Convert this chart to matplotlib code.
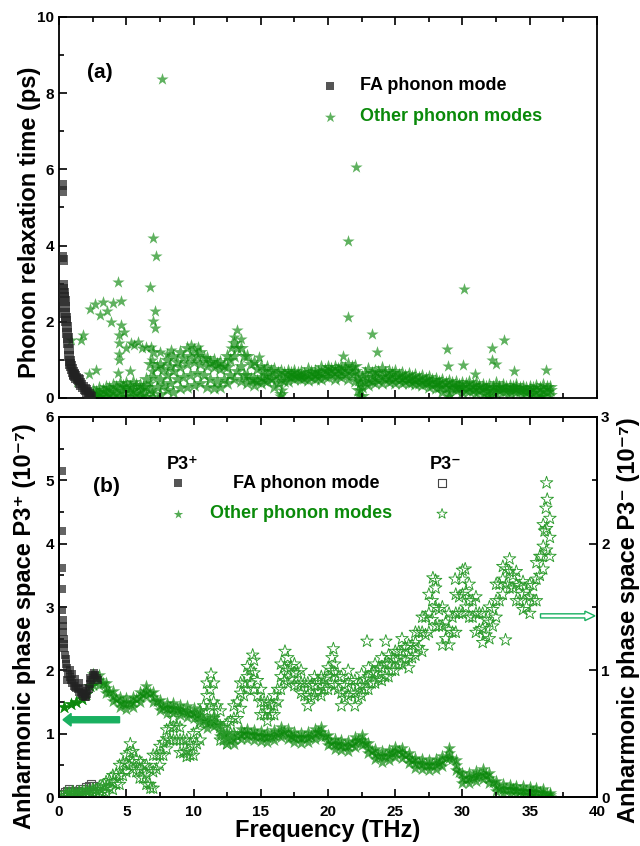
import matplotlib
matplotlib.use("Agg")
import matplotlib.pyplot as plt
import numpy as np

plt.rcParams['font.family'] = ['Liberation Sans', 'DejaVu Sans']
plt.rcParams['font.weight'] = 'bold'
plt.rcParams['axes.labelweight'] = 'bold'

# ---------------- panel (a): relaxation time ----------------
a_fa_x = [0.2, 0.2, 0.25, 0.27, 0.3, 0.33, 0.36, 0.39, 0.42, 0.45, 0.48, 0.52, 0.55, 0.58,
          0.61, 0.64, 0.68, 0.72, 0.76, 0.8, 0.85, 0.91, 0.97, 1.03, 1.1, 1.15, 1.22, 1.3,
          1.38, 1.45, 1.55, 1.67, 1.78, 1.9, 1.97, 2.08, 2.21, 2.3, 2.39]
a_fa_y = [5.6, 5.42, 3.7, 3.62, 2.97, 2.85, 2.76, 2.65, 2.54, 2.4, 2.23, 2.1, 2.01, 1.85,
          1.71, 1.58, 1.44, 1.28, 1.09, 0.98, 0.9, 0.83, 0.75, 0.68, 0.63, 0.61, 0.57, 0.52,
          0.5, 0.48, 0.4, 0.35, 0.28, 0.24, 0.22, 0.16, 0.1, 0.06, 0.03]

a_band_x = [2.5, 3.0, 3.5, 4.0, 4.5, 5.0, 5.5, 6.0, 6.5, 7.0, 7.5, 8.0, 8.5, 9.0, 9.5,
            10.0, 10.5, 11.0, 11.5, 12.0, 12.5, 13.0, 13.5, 14.0, 14.5, 15.0, 15.5, 16.0,
            16.5, 17.0, 17.5, 18.0, 18.5, 19.0, 19.5, 20.0, 20.5, 21.0, 21.5, 22.0, 22.5,
            23.0, 23.5, 24.0, 24.5, 25.0, 25.5, 26.0, 26.5, 27.0, 27.5, 28.0, 28.5, 29.0,
            29.5, 30.0, 30.5, 31.0, 31.5, 32.0, 32.5, 33.0, 33.5, 34.0, 34.5, 35.0, 35.5,
            36.0, 36.5]
a_band_lo = [0.02, 0.03, 0.02, 0.05, 0.03, 0.02, 0.05, 0.04, 0.03, 0.02, 0.1, 0.2, 0.15,
             0.25, 0.3, 0.35, 0.4, 0.3, 0.25, 0.3, 0.4, 0.5, 0.45, 0.4, 0.35, 0.4, 0.45,
             0.3, 0.1, 0.45, 0.5, 0.5, 0.48, 0.5, 0.5, 0.55, 0.5, 0.55, 0.5, 0.45, 0.05,
             0.35, 0.38, 0.4, 0.42, 0.4, 0.4, 0.38, 0.37, 0.35, 0.3, 0.25, 0.15, 0.12, 0.2,
             0.15, 0.18, 0.12, 0.1, 0.05, 0.12, 0.15, 0.12, 0.15, 0.1, 0.08, 0.02, 0.05, 0.08]
a_band_mid = [0.1, 0.12, 0.15, 0.18, 0.2, 0.25, 0.22, 0.2, 0.3, 0.55, 0.5, 0.6, 0.7, 0.8,
              0.9, 0.95, 0.9, 0.85, 0.8, 0.75, 0.8, 1.1, 0.85, 0.6, 0.5, 0.55, 0.6, 0.55,
              0.5, 0.6, 0.6, 0.58, 0.6, 0.62, 0.65, 0.7, 0.68, 0.7, 0.72, 0.7, 0.3, 0.5,
              0.55, 0.58, 0.55, 0.55, 0.52, 0.5, 0.48, 0.45, 0.42, 0.38, 0.35, 0.32, 0.3,
              0.3, 0.28, 0.27, 0.25, 0.22, 0.25, 0.25, 0.22, 0.25, 0.22, 0.2, 0.2, 0.22, 0.2]
a_band_hi = [0.2, 0.25, 0.3, 0.35, 0.4, 0.38, 0.42, 0.35, 0.5, 1.2, 0.9, 1.0, 1.1, 1.2,
             1.3, 1.25, 1.2, 1.05, 1.0, 0.95, 1.1, 1.45, 1.3, 1.1, 0.95, 0.85, 0.8, 0.75,
             0.7, 0.72, 0.7, 0.68, 0.75, 0.72, 0.8, 0.8, 0.82, 0.85, 0.88, 0.85, 0.55,
             0.75, 0.72, 0.78, 0.7, 0.72, 0.65, 0.62, 0.6, 0.58, 0.55, 0.5, 0.48, 0.45,
             0.42, 0.4, 0.42, 0.38, 0.35, 0.35, 0.4, 0.35, 0.32, 0.33, 0.3, 0.3, 0.32, 0.35, 0.3]
a_band_x2 = [2.75, 3.25, 3.75, 4.25, 4.75, 5.25, 5.75, 6.25, 6.75, 7.25, 7.75, 8.25, 8.75,
             9.25, 9.75, 10.25, 10.75, 11.25, 11.75, 12.25, 12.75, 13.25, 13.75, 14.25,
             14.75, 15.25, 15.75, 16.25, 16.75, 17.25, 17.75, 18.25, 18.75, 19.25, 19.75,
             20.25, 20.75, 21.25, 21.75, 22.25, 22.75, 23.25, 23.75, 24.25, 24.75, 25.25,
             25.75, 26.25, 26.75, 27.25, 27.75, 28.25, 28.75, 29.25, 29.75, 30.25, 30.75,
             31.25, 31.75, 32.25, 32.75, 33.25, 33.75, 34.25, 34.75, 35.25, 35.75, 36.25]
a_band_q1 = [0.05, 0.08, 0.1, 0.1, 0.12, 0.15, 0.12, 0.1, 0.2, 0.3, 0.35, 0.4, 0.5, 0.55,
             0.6, 0.65, 0.6, 0.5, 0.45, 0.5, 0.6, 0.7, 0.6, 0.5, 0.45, 0.48, 0.5, 0.4,
             0.45, 0.55, 0.55, 0.53, 0.55, 0.56, 0.58, 0.62, 0.6, 0.62, 0.62, 0.2, 0.42,
             0.45, 0.48, 0.5, 0.48, 0.47, 0.45, 0.43, 0.4, 0.38, 0.35, 0.3, 0.25, 0.25,
             0.25, 0.22, 0.22, 0.2, 0.18, 0.18, 0.2, 0.18, 0.2, 0.18, 0.15, 0.14, 0.12, 0.15]
a_band_q3 = [0.15, 0.22, 0.25, 0.3, 0.32, 0.3, 0.35, 0.28, 0.9, 0.8, 0.75, 0.85, 0.95,
             1.05, 1.1, 1.1, 1.05, 0.95, 0.9, 0.85, 1.0, 1.3, 1.1, 0.9, 0.75, 0.7, 0.7,
             0.65, 0.65, 0.66, 0.65, 0.64, 0.68, 0.68, 0.74, 0.76, 0.75, 0.78, 0.8, 0.6,
             0.65, 0.65, 0.68, 0.65, 0.65, 0.6, 0.57, 0.55, 0.52, 0.5, 0.47, 0.42, 0.4,
             0.38, 0.35, 0.36, 0.33, 0.32, 0.3, 0.3, 0.3, 0.28, 0.28, 0.27, 0.26, 0.25, 0.27, 0.28]

# isolated points, spikes and side branches
a_pts_x = [7.67, 6.97, 7.2, 6.8, 7.15, 7.0, 7.1, 4.36, 4.58, 4.03, 3.24, 2.67, 2.33, 3.55,
           3.06, 3.85, 4.6, 4.82, 4.45, 4.45, 4.47, 4.45, 4.4, 0.88, 1.6, 1.79, 2.76, 2.24,
           1.36, 13.27, 21.45, 22.1, 21.5, 23.3, 23.67, 30.1, 28.85, 32.2, 33.1, 32.2, 32.5,
           30.06, 30.9, 33.8, 36.2, 28.9, 21.15, 14.9, 5.27, 5.9, 5.36, 6.85, 6.9, 6.95,
           6.8, 6.9, 5.0, 5.6, 6.2, 6.5, 7.5, 8.0, 8.3, 9.8, 10.3, 13.0, 13.5, 12.8, 22.3,
           22.35, 22.4, 16.4, 16.6, 22.2, 29.0, 32.0, 35.8]
a_pts_y = [8.38, 4.19, 3.72, 2.91, 2.28, 2.03, 1.84, 3.04, 2.55, 2.48, 2.53, 2.46, 2.33,
           2.29, 2.17, 2.0, 1.91, 1.74, 1.66, 1.45, 1.16, 0.99, 0.66, 1.51, 1.51, 1.64,
           0.73, 0.62, 0.43, 1.79, 4.12, 6.06, 2.13, 1.67, 1.2, 2.85, 1.28, 1.31, 1.52,
           1.0, 0.9, 0.87, 0.64, 0.72, 0.74, 0.83, 1.09, 1.08, 0.7, 1.47, 1.44, 1.35,
           1.0, 0.7, 0.4, 0.15, 1.32, 1.38, 1.3, 1.35, 1.2, 1.15, 1.25, 1.4, 1.35, 1.6,
           1.55, 1.3, 0.05, 0.2, 0.4, 0.05, 0.2, 0.45, 0.05, 0.02, 0.05]

# ---------------- panel (b): phase space ----------------
b_fa_p_x = [0.2, 0.2, 0.22, 0.22, 0.25, 0.28, 0.3, 0.32, 0.35, 0.38, 0.4, 0.45, 0.5, 0.55,
            0.6, 0.7, 0.8, 0.9, 1.0, 1.1, 1.2, 1.3, 1.4, 1.5, 1.6, 1.7, 1.8, 1.9, 2.0, 2.1,
            2.2, 2.3, 2.4, 2.5, 2.6, 2.7, 2.8, 2.9, 0.6, 0.8, 1.0, 1.2, 1.5, 1.8, 2.0, 2.3]
b_fa_p_y = [5.15, 4.2, 3.62, 3.28, 2.95, 2.8, 2.7, 2.6, 2.5, 2.42, 2.35, 2.25, 2.18, 2.1,
            2.03, 1.95, 1.9, 1.85, 1.8, 1.76, 1.74, 1.72, 1.7, 1.66, 1.64, 1.62, 1.6, 1.58,
            1.58, 1.62, 1.7, 1.78, 1.85, 1.92, 1.96, 1.93, 1.88, 1.85, 1.85, 2.0, 1.95,
            1.86, 1.8, 1.72, 1.68, 1.88]

b_band_x = [0.4, 0.9, 1.3, 1.7, 2.0, 2.3, 2.5, 3.0, 3.5, 4.0, 4.5, 5.0, 5.5, 6.0, 6.5,
            7.0, 7.5, 8.0, 8.5, 9.0, 9.5, 10.0, 10.5, 11.0, 11.5, 12.0, 12.5, 13.0, 13.5,
            14.0, 14.5, 15.0, 15.5, 16.0, 16.5, 17.0, 17.5, 18.0, 18.5, 19.0, 19.5, 20.0,
            20.5, 21.0, 21.5, 22.0, 22.5, 23.0, 23.5, 24.0, 24.5, 25.0, 25.5, 26.0, 26.5,
            27.0, 27.5, 28.0, 28.5, 29.0, 29.5, 30.0, 30.5, 31.0, 31.5, 32.0, 32.5, 33.0,
            33.5, 34.0, 34.5, 35.0, 35.5, 36.0, 36.5]
b_band_mid = [1.42, 1.47, 1.5, 1.55, 1.62, 1.75, 1.85, 1.85, 1.72, 1.6, 1.5, 1.47, 1.5,
              1.58, 1.68, 1.58, 1.45, 1.4, 1.4, 1.38, 1.35, 1.32, 1.28, 1.17, 1.2, 1.05,
              0.93, 0.92, 1.0, 1.0, 0.98, 0.97, 0.95, 0.98, 1.03, 1.0, 0.95, 0.93, 0.95,
              1.0, 1.03, 0.9, 0.84, 0.82, 0.8, 0.87, 0.9, 0.78, 0.68, 0.64, 0.67, 0.71, 0.7,
              0.62, 0.54, 0.52, 0.5, 0.52, 0.57, 0.7, 0.5, 0.3, 0.3, 0.33, 0.37, 0.3, 0.18,
              0.13, 0.12, 0.11, 0.1, 0.09, 0.08, 0.07, 0.03]
b_band_hi = [1.42, 1.47, 1.5, 1.55, 1.62, 1.75, 1.95, 1.93, 1.8, 1.68, 1.58, 1.56, 1.58,
             1.66, 1.76, 1.66, 1.53, 1.49, 1.48, 1.46, 1.43, 1.4, 1.36, 1.25, 1.28, 1.13,
             1.01, 1.0, 1.08, 1.08, 1.06, 1.05, 1.03, 1.06, 1.11, 1.08, 1.03, 1.01, 1.03,
             1.08, 1.11, 0.98, 0.92, 0.9, 0.88, 0.95, 0.98, 0.86, 0.76, 0.72, 0.75, 0.79,
             0.78, 0.7, 0.62, 0.6, 0.58, 0.6, 0.65, 0.78, 0.58, 0.38, 0.38, 0.41, 0.45,
             0.38, 0.26, 0.2, 0.19, 0.18, 0.17, 0.16, 0.14, 0.12, 0.06]
b_band_lo = [1.42, 1.47, 1.5, 1.55, 1.62, 1.75, 1.77, 1.77, 1.64, 1.52, 1.42, 1.39, 1.42,
             1.5, 1.6, 1.5, 1.37, 1.32, 1.32, 1.3, 1.27, 1.24, 1.2, 1.09, 1.12, 0.97,
             0.85, 0.84, 0.92, 0.92, 0.9, 0.89, 0.87, 0.9, 0.95, 0.92, 0.87, 0.85, 0.87,
             0.92, 0.95, 0.82, 0.76, 0.74, 0.72, 0.79, 0.82, 0.7, 0.6, 0.56, 0.59, 0.63,
             0.62, 0.54, 0.46, 0.44, 0.42, 0.44, 0.49, 0.62, 0.42, 0.22, 0.22, 0.25, 0.29,
             0.22, 0.1, 0.06, 0.05, 0.04, 0.04, 0.03, 0.02, 0.01, 0.0]
b_band_x2 = [2.75, 3.25, 3.75, 4.25, 4.75, 5.25, 5.75, 6.25, 6.75, 7.25, 7.75, 8.25, 8.75,
             9.25, 9.75, 10.25, 10.75, 11.25, 11.75, 12.25, 12.75, 13.25, 13.75, 14.25,
             14.75, 15.25, 15.75, 16.25, 16.75, 17.25, 17.75, 18.25, 18.75, 19.25, 19.75,
             20.25, 20.75, 21.25, 21.75, 22.25, 22.75, 23.25, 23.75, 24.25, 24.75, 25.25,
             25.75, 26.25, 26.75, 27.25, 27.75, 28.25, 28.75, 29.25, 29.75, 30.25, 30.75,
             31.25, 31.75, 32.25, 32.75, 33.25, 33.75, 34.25, 34.75, 35.25, 35.75, 36.25]
b_band_mid2 = [1.88, 1.8, 1.66, 1.55, 1.48, 1.48, 1.54, 1.63, 1.65, 1.52, 1.42, 1.4, 1.39,
               1.36, 1.33, 1.3, 1.22, 1.18, 1.15, 0.98, 0.9, 0.96, 1.01, 0.99, 0.98, 0.96,
               0.96, 1.0, 1.03, 0.97, 0.94, 0.94, 0.97, 1.03, 0.97, 0.86, 0.83, 0.81, 0.83,
               0.9, 0.85, 0.72, 0.65, 0.65, 0.69, 0.72, 0.66, 0.58, 0.53, 0.51, 0.51, 0.54,
               0.62, 0.6, 0.4, 0.29, 0.32, 0.35, 0.34, 0.24, 0.15, 0.12, 0.12, 0.1, 0.09,
               0.08, 0.08, 0.05]

# P3- (right axis)
b_fa_m_x = [0.3, 0.45, 0.6, 0.75, 0.9, 1.05, 1.2, 1.4, 1.6, 1.8, 2.0, 2.2, 2.35, 2.5]
b_fa_m_y = [0.02, 0.04, 0.05, 0.06, 0.05, 0.04, 0.04, 0.05, 0.06, 0.06, 0.08, 0.09, 0.1, 0.09]

m_band_x = [0.5, 1.0, 1.5, 2.0, 2.5, 3.0, 3.5, 4.0, 4.5, 5.0, 5.5, 6.0, 6.5, 7.0, 7.5,
            8.0, 8.5, 9.0, 9.5, 10.0, 10.5, 11.0, 11.5, 12.0, 12.5, 13.0, 13.5, 14.0,
            14.5, 15.0, 15.5, 16.0, 16.5, 17.0, 17.5, 18.0, 18.5, 19.0, 19.5, 20.0, 20.5,
            21.0, 21.5, 22.0, 22.5, 23.0, 23.5, 24.0, 24.5, 25.0, 25.5, 26.0, 26.5, 27.0,
            27.5, 28.0, 28.5, 29.0, 29.5, 30.0, 30.5, 31.0, 31.5, 32.0, 32.5, 33.0, 33.5,
            34.0, 34.5, 35.0, 35.5, 36.0, 36.5]
m_band_lo = [0.0, 0.0, 0.01, 0.01, 0.02, 0.02, 0.04, 0.06, 0.1, 0.2, 0.22, 0.15, 0.1, 0.07,
             0.25, 0.38, 0.45, 0.35, 0.32, 0.33, 0.45, 0.68, 0.62, 0.45, 0.42, 0.5, 0.7,
             0.85, 0.85, 0.65, 0.6, 0.65, 0.85, 0.9, 0.88, 0.82, 0.72, 0.8, 0.8, 0.85, 0.88,
             0.72, 0.8, 0.72, 0.8, 0.85, 0.9, 0.92, 0.95, 1.0, 1.05, 1.02, 1.12, 1.15, 1.3,
             1.35, 1.2, 1.2, 1.3, 1.45, 1.42, 1.3, 1.22, 1.25, 1.42, 1.6, 1.65, 1.55, 1.48,
             1.45, 1.55, 1.8, 1.9]
m_band_mid = [0.01, 0.02, 0.02, 0.03, 0.04, 0.05, 0.08, 0.12, 0.17, 0.26, 0.28, 0.22, 0.18,
              0.2, 0.33, 0.46, 0.55, 0.45, 0.36, 0.4, 0.58, 0.8, 0.75, 0.55, 0.48, 0.62,
              0.82, 0.95, 0.98, 0.75, 0.68, 0.72, 0.95, 1.0, 0.98, 0.9, 0.8, 0.88, 0.88,
              0.95, 0.98, 0.82, 0.9, 0.82, 0.88, 0.95, 0.98, 1.02, 1.05, 1.08, 1.15, 1.1,
              1.22, 1.3, 1.45, 1.5, 1.35, 1.32, 1.45, 1.6, 1.55, 1.45, 1.33, 1.38, 1.55,
              1.72, 1.78, 1.68, 1.6, 1.58, 1.72, 1.98, 2.05]
m_band_hi = [0.03, 0.04, 0.04, 0.05, 0.06, 0.08, 0.12, 0.17, 0.25, 0.33, 0.36, 0.28, 0.25,
             0.33, 0.4, 0.53, 0.62, 0.55, 0.45, 0.5, 0.68, 0.9, 0.9, 0.68, 0.58, 0.72, 0.9,
             1.03, 1.08, 0.85, 0.75, 0.8, 1.05, 1.1, 1.05, 1.0, 0.9, 0.95, 0.95, 1.02, 1.05,
             0.95, 1.0, 0.92, 0.97, 1.02, 1.05, 1.1, 1.12, 1.15, 1.25, 1.2, 1.3, 1.42, 1.6,
             1.65, 1.5, 1.45, 1.6, 1.72, 1.68, 1.58, 1.45, 1.5, 1.68, 1.82, 1.88, 1.78,
             1.7, 1.68, 1.85, 2.15, 2.2]
m_band_x2 = [0.75, 1.25, 1.75, 2.25, 2.75, 3.25, 3.75, 4.25, 4.75, 5.25, 5.75, 6.25, 6.75,
             7.25, 7.75, 8.25, 8.75, 9.25, 9.75, 10.25, 10.75, 11.25, 11.75, 12.25, 12.75,
             13.25, 13.75, 14.25, 14.75, 15.25, 15.75, 16.25, 16.75, 17.25, 17.75, 18.25,
             18.75, 19.25, 19.75, 20.25, 20.75, 21.25, 21.75, 22.25, 22.75, 23.25, 23.75,
             24.25, 24.75, 25.25, 25.75, 26.25, 26.75, 27.25, 27.75, 28.25, 28.75, 29.25,
             29.75, 30.25, 30.75, 31.25, 31.75, 32.25, 32.75, 33.25, 33.75, 34.25, 34.75,
             35.25, 35.75, 36.25]
m_band_q1 = [0.01, 0.01, 0.02, 0.02, 0.03, 0.04, 0.07, 0.1, 0.17, 0.25, 0.2, 0.15, 0.1,
             0.22, 0.33, 0.45, 0.45, 0.35, 0.33, 0.42, 0.6, 0.72, 0.58, 0.45, 0.5, 0.62,
             0.8, 0.9, 0.8, 0.65, 0.65, 0.75, 0.92, 0.93, 0.88, 0.8, 0.78, 0.83, 0.85, 0.9,
             0.85, 0.78, 0.82, 0.78, 0.85, 0.9, 0.93, 0.95, 1.0, 1.05, 1.08, 1.1, 1.18,
             1.28, 1.4, 1.35, 1.25, 1.3, 1.45, 1.5, 1.42, 1.32, 1.28, 1.35, 1.55, 1.68,
             1.65, 1.55, 1.5, 1.55, 1.75, 1.95]
m_band_q3 = [0.03, 0.03, 0.04, 0.05, 0.06, 0.09, 0.13, 0.18, 0.27, 0.35, 0.3, 0.25, 0.22,
             0.33, 0.43, 0.55, 0.56, 0.45, 0.42, 0.52, 0.72, 0.85, 0.72, 0.55, 0.6, 0.75,
             0.9, 1.0, 0.92, 0.75, 0.73, 0.85, 1.02, 1.03, 0.98, 0.9, 0.88, 0.92, 0.93,
             1.0, 0.95, 0.88, 0.92, 0.88, 0.93, 0.98, 1.02, 1.05, 1.1, 1.15, 1.18, 1.2,
             1.3, 1.42, 1.55, 1.48, 1.38, 1.42, 1.58, 1.62, 1.55, 1.45, 1.4, 1.48, 1.68,
             1.8, 1.75, 1.67, 1.62, 1.67, 1.9, 2.12]
m_pts_x = [5.3, 36.25, 36.2, 29.45, 33.2, 22.9, 24.3, 20.4, 28.0, 30.0, 11.3, 14.4, 16.8,
           20.3, 27.8, 30.2, 6.8, 36.3, 36.1, 35.9]
m_pts_y = [0.42, 2.48, 2.28, 1.72, 1.24, 1.23, 1.23, 1.17, 1.71, 1.79, 0.97, 1.12, 1.15,
           1.1, 1.73, 1.8, 0.07, 2.35, 2.1, 1.9]

GREEN = '#0a880a'
OPEN_GREEN = '#2a9a2a'

fig = plt.figure(figsize=(6.4, 8.46), dpi=100)
ax_a = fig.add_axes([0.0922, 0.5296, 0.8406, 0.4504])
ax_b = fig.add_axes([0.0922, 0.0579, 0.8406, 0.4492])

# ---- (a)
ax_a.scatter(a_fa_x, a_fa_y, marker='s', s=48, color='#222222', alpha=0.7, lw=0, zorder=3)
for yy in (a_band_lo, a_band_mid, a_band_hi):
    ax_a.scatter(a_band_x, yy, marker='*', s=125, color=GREEN, alpha=0.65, lw=0)
for yy in (a_band_q1, a_band_q3):
    ax_a.scatter(a_band_x2, yy, marker='*', s=125, color=GREEN, alpha=0.65, lw=0)
ax_a.scatter(a_pts_x, a_pts_y, marker='*', s=85, color=GREEN, alpha=0.65, lw=0)

ax_a.set_xlim(0, 40)
ax_a.set_ylim(0, 10)
ax_a.set_xticks(range(0, 41, 5))
ax_a.set_xticks(np.arange(0, 40.1, 2.5), minor=True)
ax_a.set_yticks(range(0, 11, 2))
ax_a.set_yticks(range(0, 11, 1), minor=True)
ax_a.tick_params(which='both', direction='in', top=True, right=False, labelbottom=False,
                 labelsize=11, width=1.2)
ax_a.tick_params(which='major', length=6)
ax_a.tick_params(which='minor', length=3.5)
ax_a.set_ylabel('Phonon relaxation time (ps)', fontsize=17)
ax_a.yaxis.set_label_coords(-0.034, 0.46)

ax_a.text(0.052, 0.853, '(a)', transform=ax_a.transAxes, fontsize=15, va='center')
ax_a.scatter([0.504], [0.819], transform=ax_a.transAxes, marker='s', s=40,
             color='#555555', lw=0)
ax_a.scatter([0.504], [0.738], transform=ax_a.transAxes, marker='*', s=70,
             color=GREEN, alpha=0.65, lw=0)
ax_a.text(0.559, 0.819, 'FA phonon mode', transform=ax_a.transAxes, fontsize=13, va='center')
ax_a.text(0.559, 0.738, 'Other phonon modes', transform=ax_a.transAxes, fontsize=13,
          va='center', color='#0a8a0a')

# ---- (b)
ax_r = ax_b.twinx()
ax_b.scatter(b_fa_p_x, b_fa_p_y, marker='s', s=40, color='#222222', alpha=0.7, lw=0, zorder=3)
for yy in (b_band_lo, b_band_mid, b_band_hi):
    ax_b.scatter(b_band_x, yy, marker='*', s=100, color=GREEN, alpha=0.7, lw=0)
ax_b.scatter(b_band_x2, b_band_mid2, marker='*', s=100, color=GREEN, alpha=0.7, lw=0)

ax_r.scatter(b_fa_m_x, b_fa_m_y, marker='s', s=34, facecolor='none', edgecolor='#555555',
             lw=0.8)
for yy in (m_band_lo, m_band_mid, m_band_hi):
    ax_r.scatter(m_band_x, yy, marker='*', s=90, facecolor='none', edgecolor=OPEN_GREEN,
                 lw=0.65)
for yy in (m_band_q1, m_band_q3):
    ax_r.scatter(m_band_x2, yy, marker='*', s=90, facecolor='none', edgecolor=OPEN_GREEN,
                 lw=0.65)
ax_r.scatter(m_pts_x, m_pts_y, marker='*', s=90, facecolor='none', edgecolor=OPEN_GREEN, lw=0.65)

ax_b.set_xlim(0, 40)
ax_b.set_ylim(0, 6)
ax_r.set_ylim(0, 3)
ax_b.set_xticks(range(0, 41, 5))
ax_b.set_xticks(np.arange(0, 40.1, 2.5), minor=True)
ax_b.set_yticks(range(0, 7))
ax_b.set_yticks(np.arange(0, 6.1, 0.5), minor=True)
ax_r.set_yticks(range(0, 4))
ax_r.set_yticks(np.arange(0, 3.1, 0.5), minor=True)
ax_b.tick_params(which='both', direction='in', top=True, right=False, labelsize=11, width=1.2)
ax_b.tick_params(axis='x', pad=6)
ax_r.tick_params(which='both', direction='in', labelsize=11, width=1.2, pad=3)
for ax in (ax_b, ax_r):
    ax.tick_params(which='major', length=6)
    ax.tick_params(which='minor', length=3.5)
ax_b.set_xlabel('Frequency (THz)', fontsize=17, labelpad=0)
ax_b.set_ylabel('Anharmonic phase space P3\u207a (10\u207b\u2077)', fontsize=17)
ax_b.yaxis.set_label_coords(-0.042, 0.45)
ax_r.set_ylabel('Anharmonic phase space P3\u207b (10\u207b\u2077)', fontsize=17)
ax_r.yaxis.set_label_coords(1.037, 0.466)

# arrows
ax_b.arrow(4.5, 1.22, -3.6, 0, width=0.095, head_width=0.2, head_length=0.6,
           color='#19b060', zorder=5)
ax_b.arrow(35.8, 2.86, 3.3, 0, width=0.065, head_width=0.15, head_length=0.75,
           facecolor='white', edgecolor='#19b060', lw=1.0, zorder=5, clip_on=False)

ax_b.text(0.063, 0.816, '(b)', transform=ax_b.transAxes, fontsize=15, va='center')
ax_b.text(0.2, 0.874, 'P3\u207a', transform=ax_b.transAxes, fontsize=13, va='center')
ax_b.text(0.69, 0.874, 'P3\u207b', transform=ax_b.transAxes, fontsize=13, va='center')
ax_b.scatter([0.221], [0.826], transform=ax_b.transAxes, marker='s', s=38,
             color='#555555', lw=0)
ax_b.scatter([0.221], [0.745], transform=ax_b.transAxes, marker='*', s=50,
             color=GREEN, alpha=0.7, lw=0)
ax_b.scatter([0.712], [0.826], transform=ax_b.transAxes, marker='s', s=34,
             facecolor='none', edgecolor='#444444', lw=0.8)
ax_b.scatter([0.712], [0.745], transform=ax_b.transAxes, marker='*', s=60,
             facecolor='none', edgecolor=OPEN_GREEN, lw=0.6)
ax_b.text(0.323, 0.826, 'FA phonon mode', transform=ax_b.transAxes, fontsize=13, va='center')
ax_b.text(0.281, 0.745, 'Other phonon modes', transform=ax_b.transAxes, fontsize=13,
          va='center', color='#0a8a0a')

for ax in (ax_a, ax_b, ax_r):
    for sp in ax.spines.values():
        sp.set_linewidth(1.3)

fig.savefig('out.png', dpi=100)
